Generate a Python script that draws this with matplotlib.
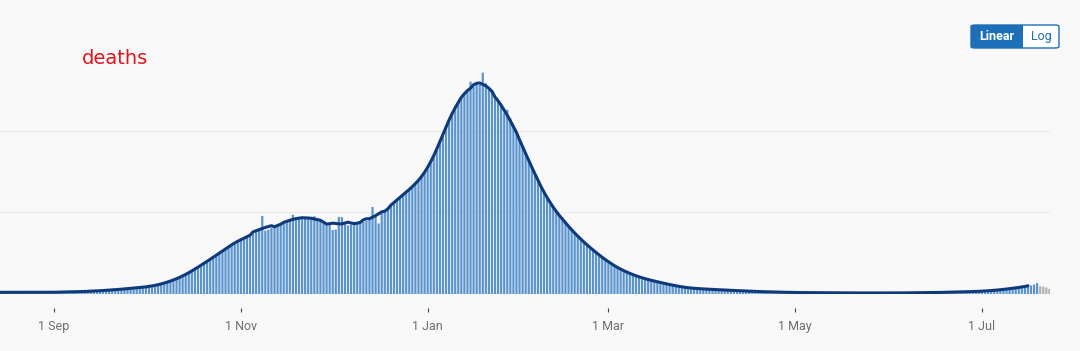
import matplotlib
matplotlib.use("Agg")
import matplotlib.pyplot as plt
import matplotlib.dates as mdates
from matplotlib.patches import FancyBboxPatch, Rectangle
import pandas as pd

# daily deaths (1 Aug 2020 onwards)
aug_2020 = [12, 11, 10, 13, 11, 12, 10, 9, 11, 12, 10, 11, 9, 10, 12, 11, 9, 10, 11, 10,
            9, 10, 11, 9, 10, 12, 10, 9, 10, 11, 10]
sep_2020 = [10, 11, 12, 11, 13, 12, 14, 13, 15, 14, 16, 17, 15, 18, 19, 21, 20, 23, 22, 25,
            27, 26, 30, 32, 31, 35, 37, 36, 40, 42]
oct_2020 = [42, 45, 48, 52, 56, 60, 66, 72, 78, 85, 92, 100, 110, 118, 128, 140, 152, 165,
            175, 188, 200, 212, 225, 238, 250, 262, 275, 290, 302, 315, 328]
nov_2020 = [335, 342, 348, 355, 368, 380, 392, 478, 388, 395, 405, 415, 420, 425, 435, 442,
            450, 485, 458, 462, 468, 465, 460, 472, 476, 455, 448, 442, 435, 430]
dec_2020 = [392, 395, 472, 470, 428, 420, 425, 432, 430, 438, 442, 448, 455, 533, 480, 432,
            500, 512, 525, 540, 560, 580, 592, 610, 625, 638, 655, 670, 690, 715, 740]
jan_2021 = [765, 800, 840, 880, 930, 978, 1030, 1075, 1115, 1150, 1180, 1205, 1230, 1250,
            1300, 1270, 1285, 1280, 1355, 1290, 1265, 1240, 1205, 1180, 1150, 1110, 1128,
            1075, 1030, 985, 945]
feb_2021 = [900, 860, 815, 775, 735, 695, 655, 618, 582, 548, 530, 505, 480, 458, 435, 412,
            392, 372, 352, 335, 318, 300, 285, 268, 252, 238, 225, 212]
mar_2021 = [195, 182, 172, 160, 150, 142, 134, 126, 118, 110, 104, 98, 92, 88, 84, 80, 74,
            70, 66, 62, 58, 54, 50, 46, 43, 40, 38, 36, 34, 33, 32]
apr_2021 = [31, 30, 29, 28, 27, 26, 25, 24, 23, 22, 22, 21, 20, 19, 18, 17, 16, 16, 15, 14,
            14, 13, 13, 12, 12, 11, 11, 10, 10, 10]
may_2021 = [9, 9, 8, 9, 8, 8, 9, 7, 8, 8, 7, 8, 7, 7, 8, 7, 6, 7, 7, 6, 7, 6, 7, 6, 6, 7, 6,
            6, 7, 6, 6]
jun_2021 = [6, 6, 7, 6, 7, 7, 8, 7, 8, 8, 8, 9, 8, 9, 9, 10, 9, 10, 10, 11, 11, 12, 12, 13,
            13, 14, 14, 15, 16, 16]
jul_2021 = [17, 18, 19, 21, 22, 24, 26, 28, 30, 32, 35, 38, 40, 42, 45, 48, 52, 58, 67]
# most recent days, still incomplete (grey)
incomplete = [48, 45, 40, 32]

complete = (aug_2020 + sep_2020 + oct_2020 + nov_2020 + dec_2020 + jan_2021 + feb_2021
            + mar_2021 + apr_2021 + may_2021 + jun_2021 + jul_2021)
dates = pd.date_range("2020-08-01", periods=len(complete), freq="D")
dates_inc = pd.date_range(dates[-1] + pd.Timedelta(days=1), periods=len(incomplete), freq="D")
avg7 = pd.Series(complete, index=dates).rolling(7, center=True).mean()

BG = "#f8f8f8"
BAR = "#5a94cf"
LINE = "#0e3a7c"
GREY_BAR = "#b3b3b3"
BLUE = "#1d70b8"

fig = plt.figure(figsize=(10.8, 3.51), dpi=100, facecolor=BG)
ax = fig.add_axes([0, 57 / 351, 1050 / 1080, 245 / 351], facecolor=BG)

ax.bar(dates, complete, width=0.72, color=BAR, zorder=2, snap=False, lw=0)
ax.bar(dates_inc, incomplete, width=0.72, color=GREY_BAR, zorder=2, snap=False, lw=0)
ax.plot(avg7.index, avg7.values, color=LINE, lw=2.2, zorder=3, solid_capstyle="round")

sep1 = pd.Timestamp("2020-09-01")
ax.set_xlim(mdates.date2num(sep1) - 17.63, mdates.date2num(sep1) + 325.2)
ax.set_ylim(0, 1500)
ax.set_yticks([500, 1000])
ax.yaxis.grid(True, color="#e8e8e8", lw=0.8, zorder=0)
ax.tick_params(axis="y", length=0, labelleft=False)

for s in ["top", "right", "left"]:
    ax.spines[s].set_visible(False)
ax.spines["bottom"].set_position(("outward", 10))
ax.spines["bottom"].set_visible(False)

ax.xaxis.set_major_locator(mdates.MonthLocator(bymonth=[9, 11, 1, 3, 5, 7]))
ax.xaxis.set_major_formatter(plt.FuncFormatter(
    lambda v, pos: f"{mdates.num2date(v).day} {mdates.num2date(v):%b}"))
ax.tick_params(axis="x", length=3, width=0.8, color="#444444", pad=6,
               labelsize=9, labelcolor="#6f6f6f")
for lab in ax.get_xticklabels():
    lab.set_family("Roboto")

fig.text(82 / 1080, 1 - 58 / 351, "deaths", color="#e3141c", fontsize=14,
         ha="left", va="center")

# Linear / Log toggle
x0, x1, xm = 971 / 1080, 1059 / 1080, 1023 / 1080
y0, y1 = 1 - 48 / 351, 1 - 25 / 351
fig.patches.append(FancyBboxPatch((x0, y0), x1 - x0, y1 - y0,
                                  boxstyle="round,pad=0,rounding_size=0.004",
                                  transform=fig.transFigure, facecolor="white",
                                  edgecolor=BLUE, lw=1.0))
fig.patches.append(Rectangle((x0, y0), xm - x0, y1 - y0, transform=fig.transFigure,
                             facecolor=BLUE, edgecolor="none"))
fig.text((x0 + xm) / 2, (y0 + y1) / 2, "Linear", color="white", fontsize=9,
         fontweight="bold", ha="center", va="center", family="Roboto")
fig.text((xm + x1) / 2, (y0 + y1) / 2, "Log", color=BLUE, fontsize=9,
         ha="center", va="center", family="Roboto")

fig.savefig("out.png", dpi=100, facecolor=BG)
